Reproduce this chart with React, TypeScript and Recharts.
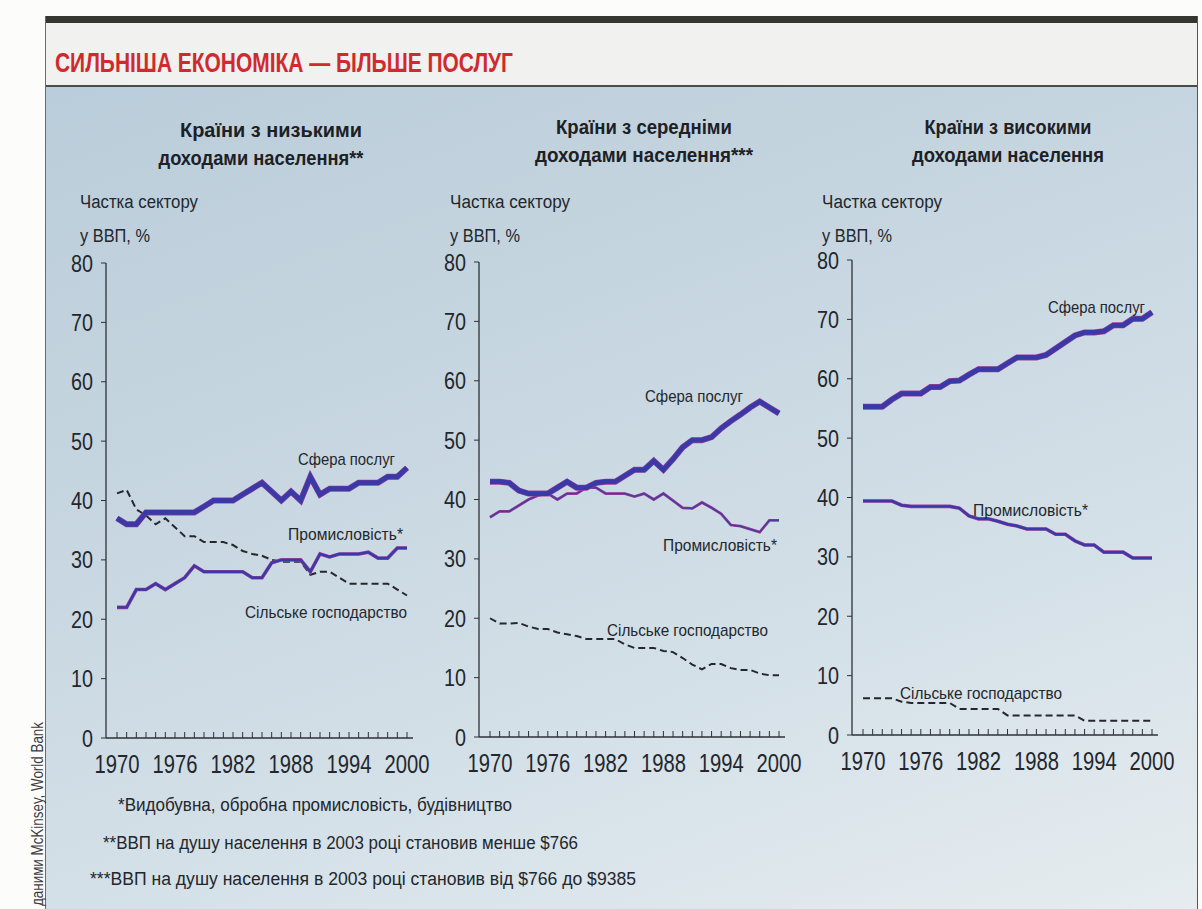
import React from 'react';
import { LineChart, Line, XAxis, YAxis } from 'recharts';

// years on the horizontal axis (one point per year)
const years = [
  1970, 1971, 1972, 1973, 1974, 1975, 1976, 1977, 1978, 1979,
  1980, 1981, 1982, 1983, 1984, 1985, 1986, 1987, 1988, 1989,
  1990, 1991, 1992, 1993, 1994, 1995, 1996, 1997, 1998, 1999, 2000,
];
const labelYears = [1970, 1976, 1982, 1988, 1994, 2000];
const yTicks = [0, 10, 20, 30, 40, 50, 60, 70, 80];

// low income countries, share of GDP, %
const lowServices = [37, 36, 36, 38, 38, 38, 38, 38, 38, 39, 40, 40, 40, 41, 42, 43, 41.5, 40, 41.5, 40, 44, 41, 42, 42, 42, 43, 43, 43, 44, 44, 45.5];
const lowIndustry = [22, 22, 25, 25, 26, 25, 26, 27, 29, 28, 28, 28, 28, 28, 27, 27, 29.5, 30, 30, 30, 28, 31, 30.5, 31, 31, 31, 31.3, 30.3, 30.3, 32, 32];
const lowAgriculture = [41.2, 41.8, 38.5, 37.5, 36, 37, 35.5, 34, 34, 33, 33, 33, 32.5, 31.5, 31, 30.7, 30, 29.7, 29.7, 29.7, 27.5, 28, 28, 27, 26, 26, 26, 26, 26, 25, 24];

// middle income countries
const midServices = [43, 43, 42.8, 41.5, 41, 41, 41, 42, 43, 42, 42, 42.8, 43, 43, 44, 45, 45, 46.5, 45, 46.8, 48.8, 50, 50, 50.5, 52, 53.2, 54.3, 55.5, 56.5, 55.5, 54.5];
const midIndustry = [37, 38, 38, 39, 40, 40.7, 41, 40, 41, 41, 42, 42, 41, 41, 41, 40.5, 41, 40, 41, 39.8, 38.6, 38.5, 39.5, 38.6, 37.6, 35.7, 35.5, 35, 34.5, 36.5, 36.5];
const midAgriculture = [20, 19.1, 19.1, 19.2, 18.6, 18.2, 18.2, 17.6, 17.3, 17, 16.5, 16.5, 16.5, 16.5, 15.6, 15, 15, 15, 14.5, 14.3, 13.3, 12.2, 11.4, 12.3, 12.3, 11.6, 11.3, 11.3, 10.7, 10.4, 10.4];

// high income countries
const highServices = [55.3, 55.3, 55.3, 56.5, 57.5, 57.5, 57.5, 58.6, 58.6, 59.6, 59.7, 60.7, 61.6, 61.6, 61.6, 62.6, 63.6, 63.6, 63.6, 64, 65.1, 66.2, 67.3, 67.8, 67.8, 68, 69, 69, 70.1, 70.1, 71.2];
const highIndustry = [39.4, 39.4, 39.4, 39.4, 38.7, 38.5, 38.5, 38.5, 38.5, 38.5, 38.2, 36.9, 36.4, 36.4, 36, 35.5, 35.2, 34.7, 34.7, 34.7, 33.8, 33.8, 32.7, 32, 32, 30.8, 30.8, 30.8, 29.8, 29.8, 29.8];
const highAgriculture = [6.2, 6.2, 6.2, 6.2, 5.6, 5.4, 5.4, 5.4, 5.4, 5.4, 4.4, 4.4, 4.4, 4.4, 4.4, 3.3, 3.3, 3.3, 3.3, 3.3, 3.3, 3.3, 3.3, 2.4, 2.4, 2.4, 2.4, 2.4, 2.4, 2.4, 2.4];

// no narrow font is installed, so texts get squeezed to the scan's widths
const FONT = "'Liberation Sans', Arial, sans-serif";
const INK = '#23272c';
const AXIS = '#2e3236';
const BLUE = '#3a3aa6';
const MAGENTA = '#9c3f9c';

type Panel = {
  left: number;
  top: number;
  width: number;
  services: number[];
  industry: number[];
  agriculture: number[];
  industryWidth: number;
  industryColor: string;
};

// width = 40 (y axis) + plot + 30 (room for the "2000" label)
const panels: Panel[] = [
  { left: 66, top: 251, width: 377, services: lowServices, industry: lowIndustry, agriculture: lowAgriculture, industryWidth: 3, industryColor: BLUE },
  { left: 439, top: 250, width: 376, services: midServices, industry: midIndustry, agriculture: midAgriculture, industryWidth: 2.2, industryColor: '#4f3a9c' },
  { left: 812, top: 248, width: 376, services: highServices, industry: highIndustry, agriculture: highAgriculture, industryWidth: 3, industryColor: BLUE },
];

type TProps = {
  x: number;
  y: number;
  w: number;
  size: number;
  children: React.ReactNode;
  anchor?: 'start' | 'middle' | 'end';
  bold?: boolean;
  fill?: string;
};

function T({ x, y, w, size, children, anchor = 'start', bold = false, fill = INK }: TProps) {
  return (
    <text
      x={x}
      y={y}
      textLength={w}
      lengthAdjust="spacingAndGlyphs"
      textAnchor={anchor}
      fontSize={size}
      fontWeight={bold ? 'bold' : 'normal'}
      fontFamily={FONT}
      fill={fill}
    >
      {children}
    </text>
  );
}

function YearTick(props: any) {
  const { x, y, payload } = props;
  const show = labelYears.includes(payload.value);
  return (
    <g>
      <line x1={x} x2={x} y1={y} y2={y - 6} stroke={AXIS} strokeWidth={1} />
      {show && (
        <T x={x} y={y + 35} w={45} size={25} anchor="middle">
          {payload.value}
        </T>
      )}
    </g>
  );
}

function ValueTick(props: any) {
  const { x, y, payload } = props;
  const s = String(payload.value);
  return (
    <T x={x} y={y + 8.5} w={s.length * 11} size={24} anchor="end">
      {s}
    </T>
  );
}

function SectorChart({ panel }: { panel: Panel }) {
  const data = years.map((year, i) => ({
    year,
    services: panel.services[i],
    industry: panel.industry[i],
    agriculture: panel.agriculture[i],
  }));
  return (
    <div style={{ position: 'absolute', left: panel.left, top: panel.top }}>
      <LineChart width={panel.width} height={527} data={data} margin={{ top: 12, right: 30, bottom: 0, left: 0 }}>
        <XAxis
          dataKey="year"
          type="number"
          domain={[1970, 2000]}
          ticks={years}
          interval={0}
          padding={{ left: 11, right: 6 }}
          height={40}
          tickLine={false}
          tickSize={0}
          tickMargin={0}
          tick={<YearTick />}
          axisLine={{ stroke: AXIS, strokeWidth: 1.3 }}
        />
        <XAxis xAxisId="top" orientation="top" dataKey="year" type="number" domain={[1970, 2000]} height={0} tick={false} tickLine={false} axisLine={{ stroke: AXIS, strokeWidth: 1.2 }} />
        <YAxis
          domain={[0, 80]}
          ticks={yTicks}
          interval={0}
          width={40}
          tickSize={5}
          tickMargin={8}
          tick={<ValueTick />}
          tickLine={{ stroke: AXIS }}
          axisLine={{ stroke: AXIS, strokeWidth: 1.3 }}
        />
        <YAxis yAxisId="right" orientation="right" domain={[0, 80]} width={0} tick={false} tickLine={false} axisLine={{ stroke: AXIS, strokeWidth: 1.2 }} />
        <Line dataKey="agriculture" stroke="#26272e" strokeWidth={2} strokeDasharray="7 4" dot={false} isAnimationActive={false} />
        <Line dataKey="industry" stroke={MAGENTA} strokeWidth={panel.industryWidth + 0.6} dot={false} isAnimationActive={false} />
        <Line dataKey="industry" stroke={panel.industryColor} strokeWidth={panel.industryWidth - 0.6} dot={false} isAnimationActive={false} />
        <Line dataKey="services" stroke={MAGENTA} strokeWidth={6} dot={false} isAnimationActive={false} />
        <Line dataKey="services" stroke={BLUE} strokeWidth={4.8} dot={false} isAnimationActive={false} />
      </LineChart>
    </div>
  );
}

export default function App() {
  return (
    <div style={{ position: 'absolute', left: 0, top: 0, width: 1202, height: 909, overflow: 'hidden', background: '#fcfcfb' }}>
      {/* card */}
      <div style={{ position: 'absolute', left: 45, top: 16, width: 1151, height: 893, borderLeft: '1px solid #6a6c6c', borderRight: '1px solid #555' }}>
        <div style={{ position: 'absolute', left: 0, top: 0, right: 0, height: 7, background: '#35362f' }} />
        <div style={{ position: 'absolute', left: 0, top: 7, right: 0, height: 62, background: '#f1f1ef', borderBottom: '2px solid #4a4c4c' }} />
        <div
          style={{
            position: 'absolute', left: 0, top: 71, right: 0, bottom: 0,
            background: 'linear-gradient(160deg, #bacdda 0%, #c8d7e1 40%, #d8e3ea 75%, #e6ecef 100%)',
          }}
        />
      </div>

      {panels.map((p, i) => <SectorChart key={i} panel={p} />)}

      <svg width={1202} height={909} style={{ position: 'absolute', left: 0, top: 0, pointerEvents: 'none' }}>
        <T x={55} y={72} w={458} size={27} bold fill="#cf2a2e">СИЛЬНІША ЕКОНОМІКА — БІЛЬШЕ ПОСЛУГ</T>

        <T x={271} y={137} w={182} size={21} bold anchor="middle" fill="#1d2125">Країни з низькими</T>
        <T x={261} y={165} w={205} size={21} bold anchor="middle" fill="#1d2125">доходами населення**</T>
        <T x={644} y={134} w={176} size={21} bold anchor="middle" fill="#1d2125">Країни з середніми</T>
        <T x={644} y={162} w={218} size={21} bold anchor="middle" fill="#1d2125">доходами населення***</T>
        <T x={1008} y={134} w={167} size={21} bold anchor="middle" fill="#1d2125">Країни з високими</T>
        <T x={1008} y={162} w={192} size={21} bold anchor="middle" fill="#1d2125">доходами населення</T>

        <T x={80} y={208} w={118} size={18}>Частка сектору</T>
        <T x={80} y={242} w={70} size={18}>у ВВП, %</T>
        <T x={450} y={208} w={120} size={18}>Частка сектору</T>
        <T x={450} y={242} w={70} size={18}>у ВВП, %</T>
        <T x={822} y={208} w={120} size={18}>Частка сектору</T>
        <T x={822} y={242} w={70} size={18}>у ВВП, %</T>

        <T x={395} y={465} w={97} size={17} anchor="end">Сфера послуг</T>
        <T x={403} y={540} w={115} size={17} anchor="end">Промисловість*</T>
        <T x={407} y={618} w={162} size={17} anchor="end">Сільське господарство</T>
        <T x={743} y={402} w={98} size={17} anchor="end">Сфера послуг</T>
        <T x={777} y={551} w={114} size={17} anchor="end">Промисловість*</T>
        <T x={768} y={636} w={161} size={17} anchor="end">Сільське господарство</T>
        <T x={1145} y={313} w={97} size={17} anchor="end">Сфера послуг</T>
        <T x={1088} y={516} w={115} size={17} anchor="end">Промисловість*</T>
        <T x={1062} y={699} w={162} size={17} anchor="end">Сільське господарство</T>

        <T x={118} y={811} w={394} size={18}>*Видобувна, обробна промисловість, будівництво</T>
        <T x={103} y={849} w={475} size={18}>**ВВП на душу населення в 2003 році становив менше $766</T>
        <T x={90} y={885} w={546} size={18}>***ВВП на душу населення в 2003 році становив від $766 до $9385</T>

        <g transform="rotate(-90 43 722)">
          <T x={43} y={722} w={184} size={16} anchor="end" fill="#3a3d42">даними McKinsey, World Bank</T>
        </g>
      </svg>
    </div>
  );
}
